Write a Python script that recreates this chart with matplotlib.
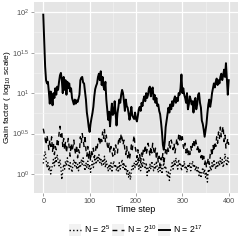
import numpy as np
import matplotlib
matplotlib.use("Agg")
import matplotlib.pyplot as plt
from matplotlib.patches import Rectangle

plt.rcParams["font.family"] = ["Liberation Sans", "DejaVu Sans"]
plt.rcParams["mathtext.fontset"] = "custom"
plt.rcParams["mathtext.rm"] = "Liberation Sans"
plt.rcParams["mathtext.it"] = "Liberation Sans:italic"

# time steps (every 2nd step)
steps = np.arange(0, 401, 2)

# log10 of the gain factor, N = 2^17
log_gain_n17 = [
    1.97, 1.66, 1.33, 1.16, 1.12, 1.14, 1.02, 0.87, 1.02, 0.96,
    0.85, 1.00, 0.94, 1.06, 0.98, 1.08, 1.04, 1.14, 1.22, 1.25,
    1.16, 1.00, 1.20, 1.04, 1.16, 0.98, 1.14, 1.06, 1.12, 1.02,
    1.06, 0.94, 0.90, 0.86, 0.92, 0.87, 0.91, 0.89, 0.93, 0.98,
    1.16, 1.19, 1.20, 1.13, 1.12, 1.02, 0.92, 0.76, 0.68, 0.58,
    0.52, 0.62, 0.69, 0.75, 0.83, 0.96, 1.05, 1.09, 1.12, 1.20,
    1.24, 1.16, 1.27, 1.10, 1.20, 1.08, 1.04, 1.14, 0.92, 0.79,
    0.67, 0.77, 0.59, 0.75, 0.87, 0.73, 0.75, 0.90, 0.75, 0.60,
    0.75, 0.83, 0.92, 0.88, 0.98, 1.04, 1.00, 0.90, 0.78, 0.92,
    0.84, 0.82, 0.75, 0.67, 0.74, 0.83, 0.72, 0.70, 0.68, 0.76,
    0.68, 0.65, 0.72, 0.80, 0.83, 0.78, 0.88, 0.84, 0.92, 0.96,
    0.90, 1.00, 0.94, 0.98, 1.06, 1.08, 0.96, 1.04, 1.07, 0.92,
    0.98, 0.88, 0.94, 0.84, 0.86, 0.78, 0.74, 0.64, 0.52, 0.36,
    0.30, 0.40, 0.58, 0.66, 0.74, 0.82, 0.76, 0.86, 0.80, 0.90,
    0.84, 0.92, 0.96, 0.88, 0.94, 0.90, 1.00, 0.98, 1.06, 1.23,
    1.00, 1.06, 0.98, 0.94, 0.88, 1.00, 0.80, 0.86, 0.96, 0.92,
    0.86, 0.90, 0.76, 0.90, 0.94, 0.80, 0.86, 0.98, 1.00, 0.88,
    0.82, 0.66, 0.62, 0.55, 0.46, 0.54, 0.62, 0.75, 0.86, 0.92,
    0.83, 0.90, 1.00, 1.06, 1.12, 1.07, 1.14, 1.18, 1.10, 1.16,
    1.12, 1.20, 1.24, 1.16, 1.22, 1.29, 1.20, 1.37, 1.18, 0.98,
    1.16,
]

# N = 2^10
log_gain_n10 = [
    0.56, 0.50, 0.44, 0.36, 0.48, 0.40, 0.30, 0.42, 0.34, 0.46,
    0.28, 0.38, 0.24, 0.34, 0.30, 0.42, 0.36, 0.50, 0.59, 0.46,
    0.52, 0.34, 0.44, 0.30, 0.40, 0.26, 0.36, 0.44, 0.32, 0.22,
    0.38, 0.28, 0.34, 0.42, 0.30, 0.24, 0.36, 0.20, 0.30, 0.26,
    0.46, 0.38, 0.50, 0.42, 0.34, 0.48, 0.30, 0.22, 0.34, 0.18,
    0.28, 0.16, 0.30, 0.24, 0.32, 0.20, 0.26, 0.34, 0.30, 0.40,
    0.44, 0.36, 0.46, 0.40, 0.52, 0.44, 0.55, 0.40, 0.48, 0.36,
    0.30, 0.38, 0.26, 0.34, 0.28, 0.22, 0.32, 0.24, 0.36, 0.30,
    0.26, 0.40, 0.46, 0.38, 0.50, 0.44, 0.36, 0.42, 0.30, 0.24,
    0.34, 0.20, 0.28, 0.18, 0.26, 0.36, 0.30, 0.40, 0.48, 0.34,
    0.28, 0.20, 0.30, 0.16, 0.24, 0.14, 0.26, 0.20, 0.32, 0.28,
    0.36, 0.24, 0.30, 0.38, 0.32, 0.22, 0.34, 0.26, 0.38, 0.30,
    0.24, 0.32, 0.18, 0.26, 0.14, 0.22, 0.10, 0.20, 0.16, 0.26,
    0.12, 0.22, 0.30, 0.24, 0.34, 0.28, 0.40, 0.32, 0.42, 0.36,
    0.30, 0.38, 0.26, 0.34, 0.44, 0.36, 0.48, 0.42, 0.50, 0.40,
    0.46, 0.34, 0.30, 0.38, 0.26, 0.32, 0.22, 0.30, 0.24, 0.34,
    0.28, 0.36, 0.42, 0.32, 0.44, 0.38, 0.30, 0.36, 0.24, 0.30,
    0.20, 0.26, 0.16, 0.22, 0.12, 0.18, 0.08, 0.14, 0.20, 0.12,
    0.24, 0.30, 0.22, 0.36, 0.28, 0.40, 0.34, 0.46, 0.38, 0.52,
    0.44, 0.58, 0.46, 0.54, 0.59, 0.40, 0.48, 0.32, 0.38, 0.44,
    0.36,
]

# N = 2^5
log_gain_n5 = [
    0.13, 0.22, 0.28, 0.18, 0.08, 0.14, 0.04, 0.10, 0.00, 0.06,
    0.12, 0.18, 0.10, 0.20, 0.14, 0.24, 0.16, 0.10, 0.18, 0.08,
    -0.07, 0.04, 0.12, 0.06, 0.16, 0.10, 0.20, 0.12, 0.06, 0.14,
    0.08, 0.02, 0.12, 0.18, 0.10, 0.16, 0.06, 0.12, 0.04, 0.14,
    0.08, 0.18, 0.12, 0.20, 0.10, 0.04, 0.14, 0.08, 0.16, 0.06,
    0.12, 0.02, 0.10, 0.16, 0.08, 0.14, 0.20, 0.12, 0.22, 0.16,
    0.24, 0.14, 0.20, 0.10, 0.18, 0.12, 0.22, 0.08, 0.16, 0.10,
    0.04, 0.12, 0.06, 0.14, 0.02, 0.10, 0.16, 0.08, 0.12, 0.04,
    0.10, 0.02, 0.14, 0.06, 0.12, 0.18, 0.08, 0.14, 0.04, 0.10,
    0.00, 0.06, -0.04, 0.02, -0.07, 0.04, 0.10, 0.06, 0.14, 0.08,
    0.16, 0.10, 0.18, 0.06, 0.12, 0.04, 0.14, 0.08, 0.20, 0.12,
    0.06, 0.14, -0.02, 0.08, 0.02, 0.12, 0.06, 0.16, 0.10, 0.04,
    0.12, 0.06, 0.16, 0.08, 0.02, 0.10, 0.04, 0.12, 0.00, 0.08,
    0.14, 0.06, 0.10, 0.02, -0.04, 0.04, -0.08, 0.02, 0.08, 0.14,
    0.06, 0.16, 0.10, 0.20, 0.12, 0.06, 0.18, 0.10, 0.14, 0.04,
    0.12, 0.08, 0.16, 0.06, 0.10, 0.02, 0.12, 0.08, 0.14, 0.04,
    0.10, 0.16, 0.08, 0.12, 0.04, 0.10, 0.02, 0.08, -0.02, 0.04,
    -0.05, 0.02, 0.08, 0.00, 0.06, -0.04, 0.02, -0.10, 0.06, 0.02,
    0.10, 0.04, 0.14, 0.08, 0.18, 0.10, 0.06, 0.14, 0.08, 0.16,
    0.10, 0.20, 0.12, 0.18, 0.08, 0.14, 0.25, 0.16, 0.10, 0.20,
    0.14,
]

series_labels = [r"N = 2$^{5}$", r"N = 2$^{10}$", r"N = 2$^{17}$"]
ytick_exps = [0, 0.5, 1, 1.5, 2]
ytick_labels = [r"$10^{0}$", r"$10^{0.5}$", r"$10^{1}$", r"$10^{1.5}$", r"$10^{2}$"]
xticks = [0, 100, 200, 300, 400]

fig = plt.figure(figsize=(2.45, 2.45), dpi=100)
ax = fig.add_axes([34 / 245, 52.3 / 245, 204 / 245, 191 / 245])
ax.set_facecolor("#E5E5E5")

styles = [(0, (1, 1.6)), (0, (3.5, 3)), "-"]
widths = [1.0, 1.0, 1.4]
for vals, lab, ls, lw in zip([log_gain_n5, log_gain_n10, log_gain_n17], series_labels, styles, widths):
    ax.plot(steps, 10 ** np.array(vals), color="black", linestyle=ls, lw=lw, label=lab, zorder=3)

ax.set_yscale("log")
ax.set_ylim(10 ** -0.231, 10 ** 2.13)
ax.set_xlim(-20, 420)
ax.set_yticks([10 ** e for e in ytick_exps])
ax.set_yticklabels(ytick_labels)
ax.set_yticks([10 ** e for e in [0.25, 0.75, 1.25, 1.75]], minor=True)
ax.yaxis.set_minor_formatter(matplotlib.ticker.NullFormatter())
ax.set_xticks(xticks)
ax.set_xticks([50, 150, 250, 350], minor=True)

ax.grid(True, which="major", color="white", lw=0.9)
ax.grid(True, which="minor", color="#F2F2F2", lw=0.45)
ax.set_axisbelow(True)
for s in ax.spines.values():
    s.set_visible(False)
ax.tick_params(which="major", length=2, width=0.5, color="#7F7F7F",
               labelcolor="#4D4D4D", pad=1.5)
ax.tick_params(axis="x", labelsize=5.2)
ax.tick_params(axis="y", labelsize=5.4)
ax.tick_params(which="minor", length=0)

ax.set_xlabel("Time step", fontsize=6.5, labelpad=0.5)
ax.set_ylabel(r"Gain factor ( log$_{10}$ scale)", fontsize=6.1)
ax.yaxis.set_label_coords(-0.103, 0.5)

leg = ax.legend(loc="center", bbox_to_anchor=(0.5, -0.19), ncol=3, frameon=False,
                fontsize=6.3, handlelength=1.35, handletextpad=0.3, columnspacing=0.25,
                borderaxespad=0)
fig.canvas.draw()
for h in leg.legend_handles:
    bb = h.get_window_extent()
    cx, cy = (bb.x0 + bb.x1) / 2, (bb.y0 + bb.y1) / 2
    w = 12
    fig.patches.append(Rectangle((cx - w / 2, cy - w / 2), w, w, transform=None,
                                 facecolor="#F2F2F2", edgecolor="none", zorder=-1,
                                 figure=fig))

fig.savefig("out.png", dpi=100)
